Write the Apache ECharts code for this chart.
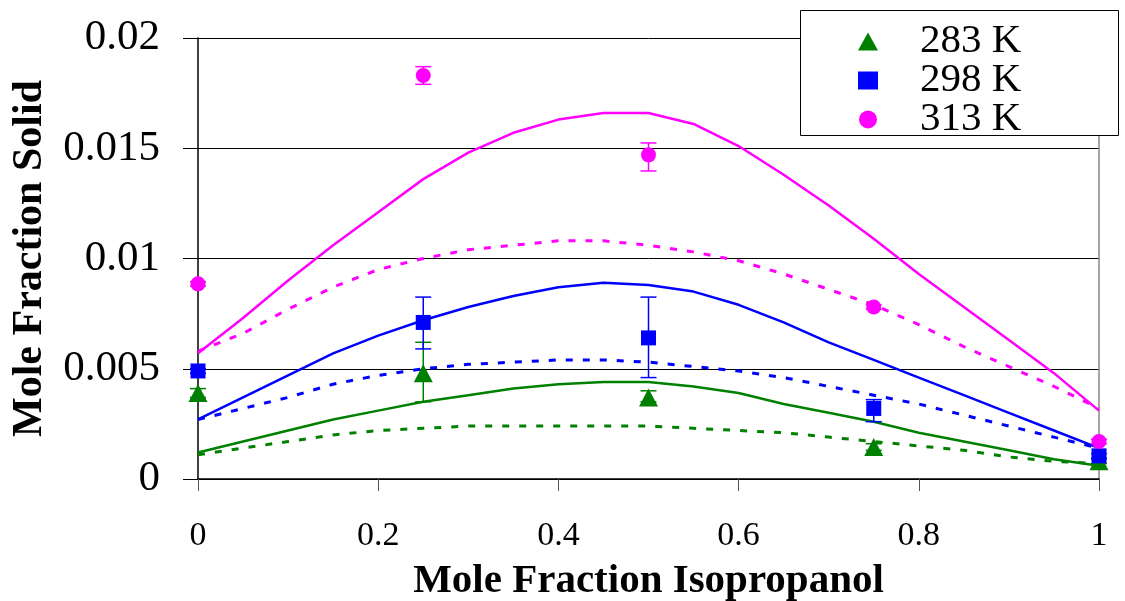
<!DOCTYPE html>
<html>
<head>
<meta charset="utf-8">
<script src="https://cdn.jsdelivr.net/npm/echarts@6/dist/echarts.min.js"></script>
<style>
html,body{margin:0;padding:0;background:#fff;}
#c{width:1125px;height:601px;}
</style>
</head>
<body>
<div id="c"></div>
<script>
// ---- data ----
const xPts = [0, 0.25, 0.5, 0.75, 1];
const y283 = [0.0039, 0.0048, 0.0037, 0.00145, 0.0008];
const lo283 = [0.0037, 0.0035, 0.0035, 0.0013, 0.0007];
const hi283 = [0.0041, 0.0062, 0.0040, 0.0016, 0.0009];
const y298 = [0.0049, 0.0071, 0.0064, 0.0032, 0.00105];
const lo298 = [0.0048, 0.0059, 0.0046, 0.0026, 0.00095];
const hi298 = [0.0050, 0.00825, 0.00825, 0.0036, 0.00115];
const y313 = [0.00885, 0.0183, 0.0147, 0.0078, 0.0017];
const lo313 = [0.00875, 0.0179, 0.01397, 0.0077, 0.0016];
const hi313 = [0.00895, 0.0187, 0.01524, 0.0079, 0.0018];

const xLine = [0,0.05,0.1,0.15,0.2,0.25,0.3,0.35,0.4,0.45,0.5,0.55,0.6,0.65,0.7,0.75,0.8,0.85,0.9,0.95,1];
const solid313 = [0.0057,0.0073,0.0090,0.0106,0.0121,0.0136,0.0148,0.0157,0.0163,0.0166,0.0166,0.0161,0.0151,0.0138,0.0124,0.0109,0.0093,0.0078,0.0063,0.0048,0.0031];
const dash313  = [0.0058,0.0066,0.0077,0.0087,0.0095,0.0100,0.0104,0.0106,0.0108,0.0108,0.0106,0.0103,0.0099,0.0093,0.0086,0.0079,0.0070,0.0060,0.0051,0.0042,0.0032];
const solid298 = [0.0027,0.0037,0.0047,0.0057,0.0065,0.0072,0.0078,0.0083,0.0087,0.0089,0.0088,0.0085,0.0079,0.0071,0.0062,0.0054,0.0046,0.0038,0.0030,0.0022,0.0014];
const dash298  = [0.0027,0.0032,0.0037,0.0043,0.0047,0.0050,0.0052,0.0053,0.0054,0.0054,0.0053,0.0051,0.0049,0.0046,0.0042,0.0038,0.0034,0.0029,0.0024,0.0019,0.0014];
const solid283 = [0.0012,0.0017,0.0022,0.0027,0.0031,0.0035,0.0038,0.0041,0.0043,0.0044,0.0044,0.0042,0.0039,0.0034,0.0030,0.0026,0.0021,0.0017,0.0013,0.0009,0.0006];
const dash283  = [0.0011,0.0014,0.0017,0.0020,0.0022,0.0023,0.0024,0.0024,0.0024,0.0024,0.0024,0.0023,0.0022,0.0021,0.0019,0.0017,0.0015,0.0013,0.0010,0.0008,0.0007];

const xTicks = ['0','0.2','0.4','0.6','0.8','1'];
const yTicks = ['0','0.005','0.01','0.015','0.02'];
const seriesNames = ['283 K','298 K','313 K'];
const xTitle = 'Mole Fraction Isopropanol';
const yTitle = 'Mole Fraction Solid';

// ---- helpers ----
const GREEN = '#008000', BLUE = '#0000FF', MAG = '#FF00FF';
const FONT = '"Liberation Serif", "Times New Roman", serif';
function zip(xs, ys){ return xs.map((x,i)=>[x, ys[i]]); }
function lineSeries(name, ys, color, dashed){
  return {
    name: name, type: 'line', data: zip(xLine, ys), symbol: 'none', smooth: false,
    lineStyle: {color: color, width: dashed ? 3 : 2.5, type: dashed ? [7,10] : 'solid'},
    z: 2, silent: true
  };
}
function errSeries(name, lo, hi, color){
  return {
    name: name, type: 'custom', z: 4, silent: true,
    data: xPts.map((x,i)=>[x, lo[i], hi[i]]),
    renderItem: function(params, api){
      const pLo = api.coord([api.value(0), api.value(1)]);
      const pHi = api.coord([api.value(0), api.value(2)]);
      const w = 8;
      const st = {stroke: color, lineWidth: 1.5};
      return {type: 'group', children: [
        {type:'line', shape:{x1:pLo[0], y1:pLo[1], x2:pHi[0], y2:pHi[1]}, style: st},
        {type:'line', shape:{x1:pLo[0]-w, y1:pLo[1], x2:pLo[0]+w, y2:pLo[1]}, style: st},
        {type:'line', shape:{x1:pHi[0]-w, y1:pHi[1], x2:pHi[0]+w, y2:pHi[1]}, style: st}
      ]};
    }
  };
}
function scatterSeries(name, ys, color, symbol, size){
  return {
    name: name, type: 'scatter', data: zip(xPts, ys), symbol: symbol, symbolSize: size,
    itemStyle: {color: color, opacity: 1}, z: 5, clip: false
  };
}

const chart = echarts.init(document.getElementById('c'), null, {renderer: 'canvas'});
chart.setOption({
  animation: false,
  backgroundColor: '#fff',
  textStyle: {fontFamily: FONT},
  grid: {left: 198, right: 26, top: 38, bottom: 122, containLabel: false, outerBoundsMode: 'none'},
  xAxis: {
    type: 'value', min: 0, max: 1, interval: 0.2,
    name: xTitle, nameLocation: 'middle', nameGap: 82,
    nameTextStyle: {fontFamily: FONT, fontSize: 41, fontWeight: 'bold', color: '#000'},
    axisLine: {show: true, lineStyle: {color: '#000', width: 1.5}},
    axisTick: {show: true, inside: false, length: 12, lineStyle: {color: '#555', width: 1}},
    axisLabel: {fontFamily: FONT, fontSize: 34, color: '#000', margin: 40,
      formatter: function(v){ return xTicks[Math.round(v/0.2)]; }},
    splitLine: {show: false}
  },
  yAxis: [{
    type: 'value', min: 0, max: 0.02, interval: 0.005,
    name: yTitle, nameLocation: 'middle', nameGap: 147, nameRotate: 90,
    nameTextStyle: {fontFamily: FONT, fontSize: 42, fontWeight: 'bold', color: '#000'},
    axisLine: {show: true, lineStyle: {color: '#000', width: 1.5}},
    axisTick: {show: true, inside: false, length: 15, lineStyle: {color: '#000', width: 1}},
    axisLabel: {fontFamily: FONT, fontSize: 43, color: '#000', margin: 38,
      formatter: function(v){ return yTicks[Math.round(v/0.005)]; }},
    splitLine: {show: true, lineStyle: {color: '#000', width: 1}}
  },{
    type: 'value', min: 0, max: 0.02, interval: 0.005, position: 'right',
    axisLine: {show: true, lineStyle: {color: '#888', width: 1.5}},
    axisTick: {show: false}, axisLabel: {show: false}, splitLine: {show: false}
  }],
  legend: {
    data: seriesNames, orient: 'vertical', left: 858, top: 21, padding: 0,
    itemWidth: 20, itemHeight: 18, itemGap: -2, z: 20,
    textStyle: {fontFamily: FONT, fontSize: 41, color: '#000', lineHeight: 36, padding: [0,0,0,37]},
    selectedMode: false
  },
  graphic: [{
    type: 'rect', left: 800, top: 10, z: 15,
    shape: {width: 318, height: 125},
    style: {fill: '#fff', stroke: '#000', lineWidth: 1}
  }],
  series: [
    lineSeries('s313', solid313, MAG, false),
    lineSeries('d313', dash313, MAG, true),
    lineSeries('s298', solid298, BLUE, false),
    lineSeries('d298', dash298, BLUE, true),
    lineSeries('s283', solid283, GREEN, false),
    lineSeries('d283', dash283, GREEN, true),
    errSeries('e283', lo283, hi283, GREEN),
    errSeries('e298', lo298, hi298, BLUE),
    errSeries('e313', lo313, hi313, MAG),
    scatterSeries(seriesNames[0], y283, GREEN, 'triangle', [19,18]),
    scatterSeries(seriesNames[1], y298, BLUE, 'rect', 15),
    scatterSeries(seriesNames[2], y313, MAG, 'circle', 15)
  ]
});
</script>
</body>
</html>
